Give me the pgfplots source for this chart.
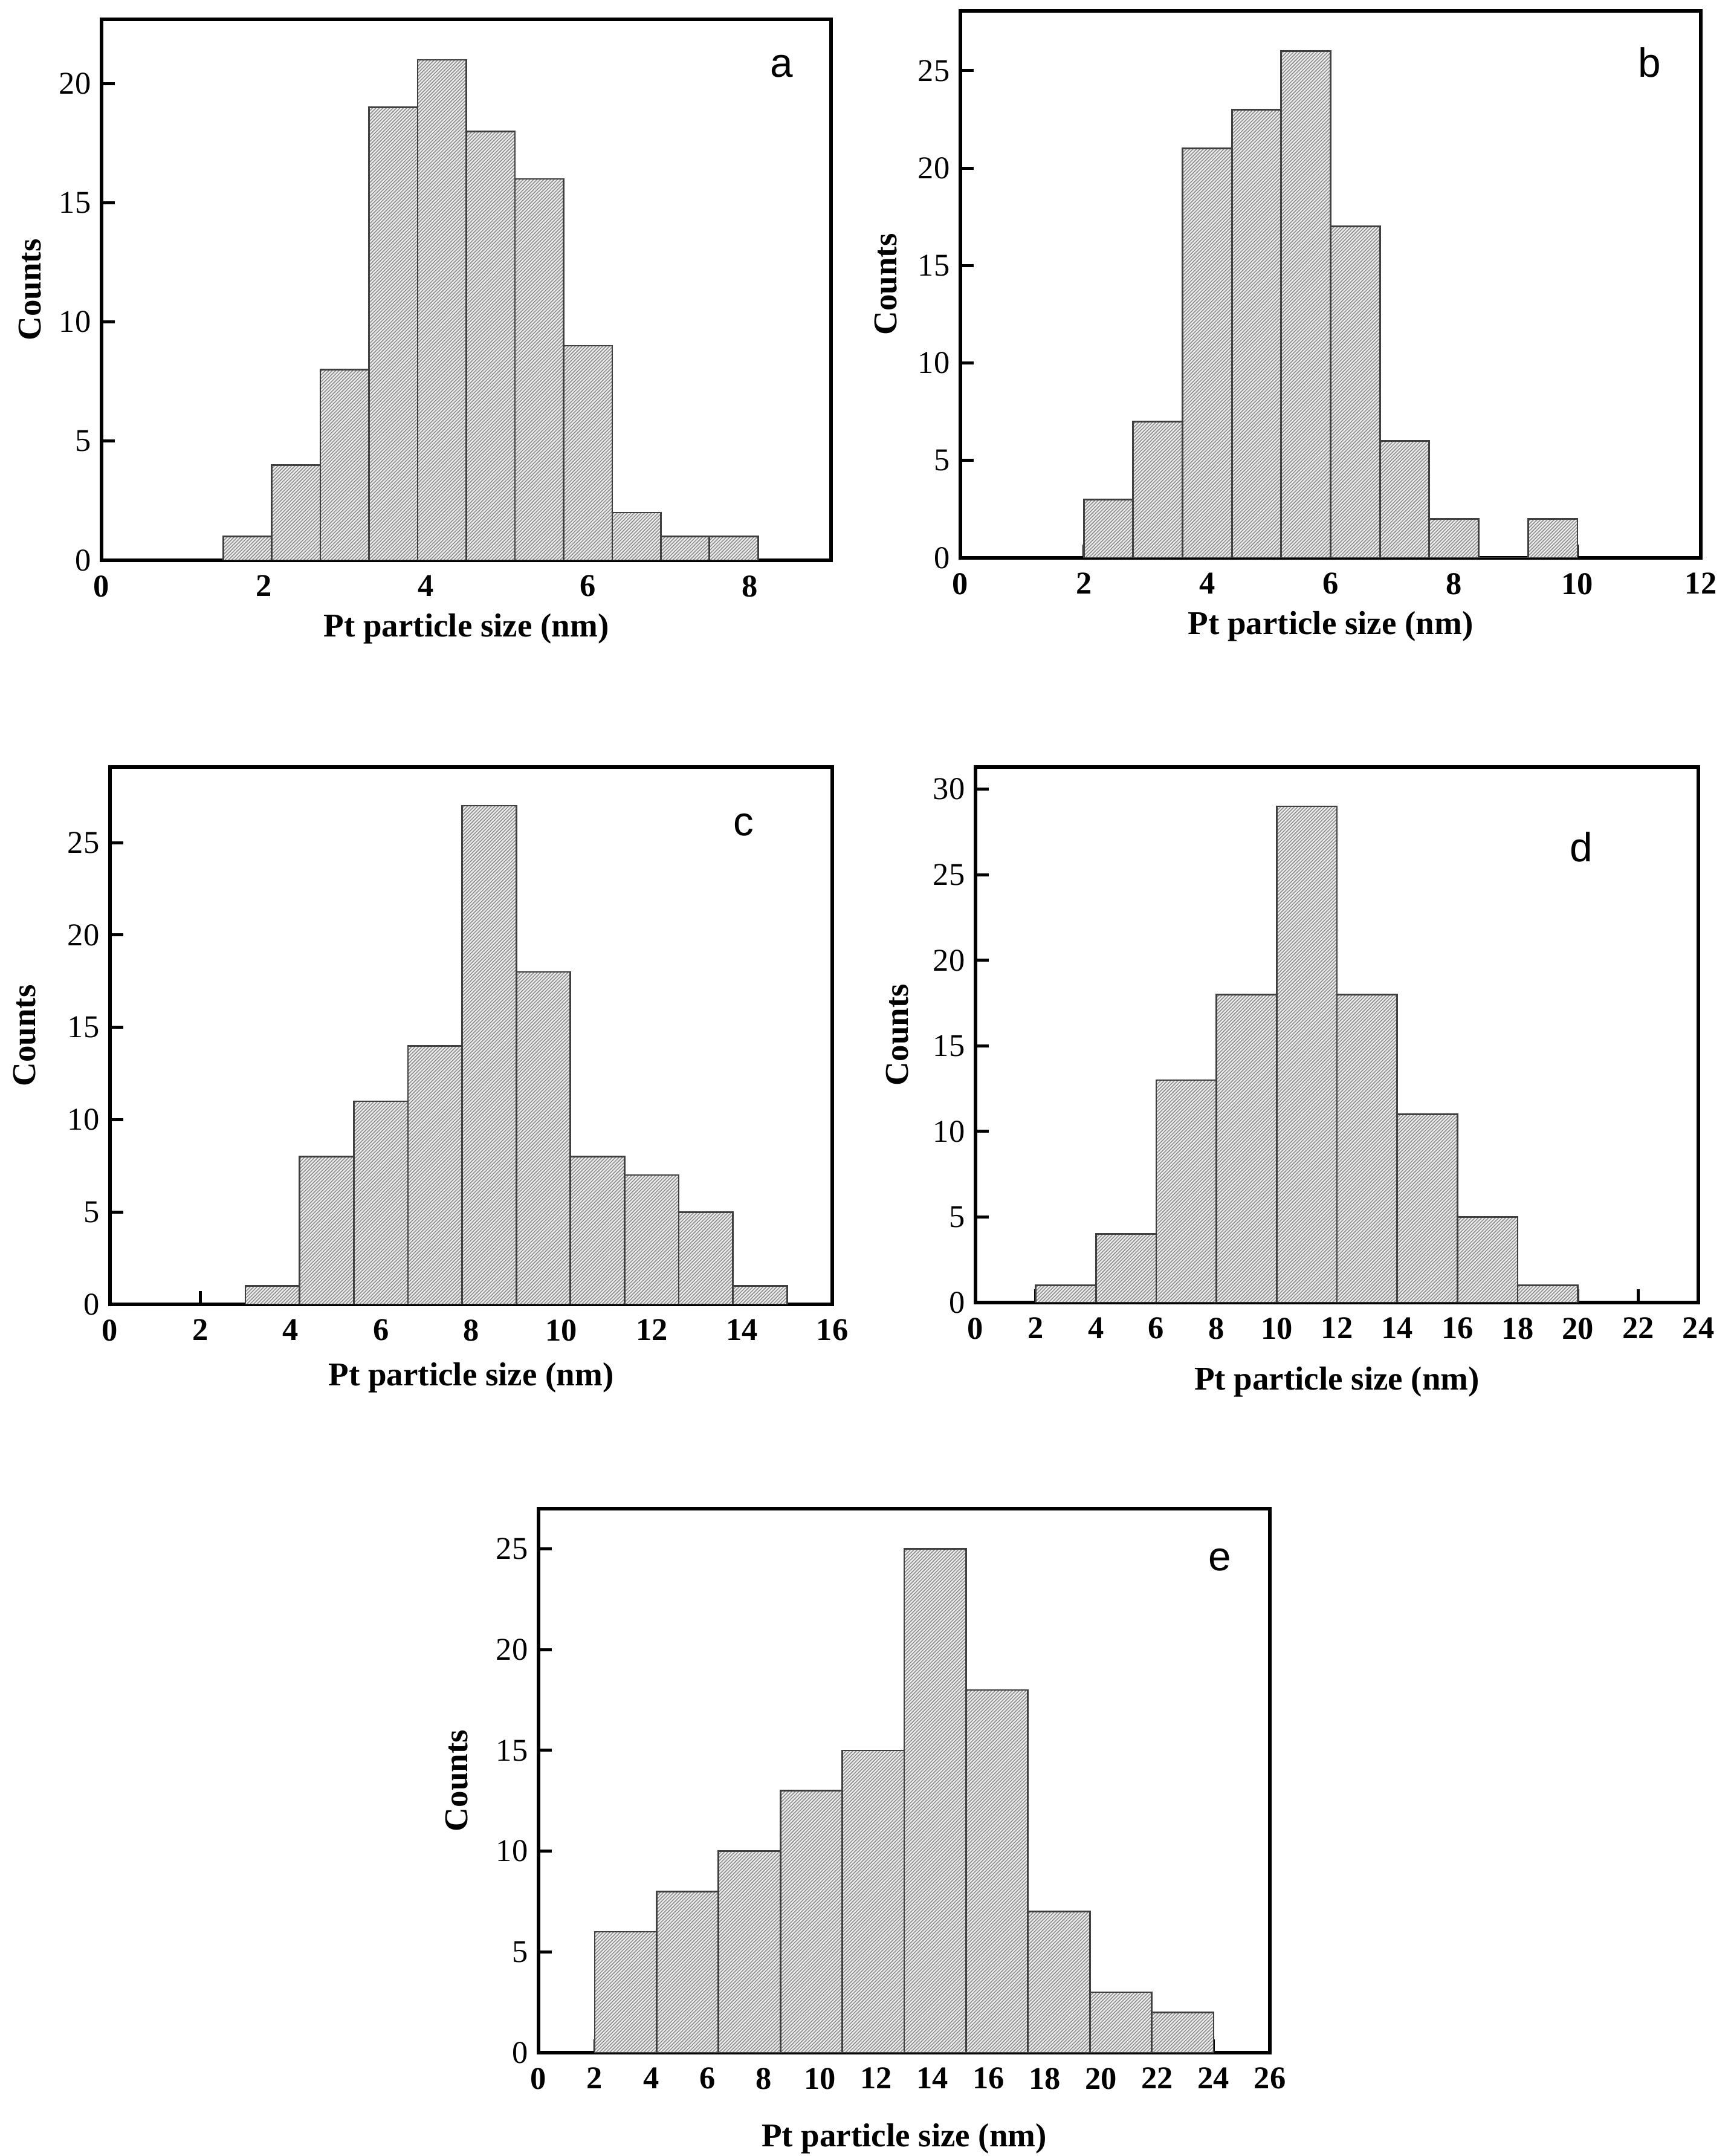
\documentclass[border=0pt]{standalone}
\usepackage{fontspec}
\setmainfont{Liberation Serif}
\newfontfamily\lettfont{Liberation Sans}
\usepackage{pgfplots}
\pgfplotsset{compat=1.18}
\usetikzlibrary{patterns.meta}

\tikzset{lett/.style={font=\lettfont\fontsize{13.5}{15}\selectfont, anchor=center}}
\newcommand\lblfont{\bfseries\fontsize{11}{13}\selectfont}
\pgfplotsset{
  histo/.style={
    scale only axis,
    xmin=0, ymin=0,
    axis line style={line width=1.3pt},
    tick align=inside, tick pos=left,
    major tick length=4.4pt,
    every tick/.style={line width=1pt, black},
    /pgf/number format/assume math mode=true,
    yticklabel style={font=\fontsize{10.5}{12}\selectfont},
    xticklabel style={font=\bfseries\fontsize{10.5}{12}\selectfont, yshift=-1.5pt},
    xlabel={Pt particle size (nm)},
    ylabel={Counts},
  },
  bars/.style={ybar interval, draw=black!75, line width=0.55pt, fill=black!7,
    postaction={pattern={Lines[angle=45,distance=0.8pt,line width=0.3pt]}, pattern color=black!45}},
}

\begin{document}
\begin{tikzpicture}
\useasboundingbox (0,0) rectangle (572.6pt,713.4pt);

% ---- a ----
\begin{axis}[histo, at={(33.6pt,528pt)}, anchor=south west,
  width=241.4pt, height=179pt, xmax=9, ymax=22.7,
  xtick={0,2,4,6,8}, ytick={0,5,10,15,20},
  every axis x label/.style={at={(axis description cs:0.5,-0.1263)}, anchor=center, font=\lblfont},
  every axis y label/.style={at={(axis description cs:-0.0978,0.5)}, rotate=90, anchor=center, font=\lblfont}]
\addplot[bars] coordinates {(1.5,1)(2.1,4)(2.7,8)(3.3,19)(3.9,21)(4.5,18)(5.1,16)(5.7,9)(6.3,2)(6.9,1)(7.5,1)(8.1,0)};
\node[lett] at (rel axis cs:0.932,0.913) {a};
\end{axis}

% ---- b ----
\begin{axis}[histo, at={(317.8pt,528.8pt)}, anchor=south west,
  width=245pt, height=181pt, xmax=12, ymax=28.07,
  xtick={0,2,...,12}, ytick={0,5,...,25},
  every axis x label/.style={at={(axis description cs:0.5,-0.1249)}, anchor=center, font=\lblfont},
  every axis y label/.style={at={(axis description cs:-0.1004,0.5)}, rotate=90, anchor=center, font=\lblfont}]
\addplot[bars] coordinates {(2,3)(2.8,7)(3.6,21)(4.4,23)(5.2,26)(6.0,17)(6.8,6)(7.6,2)(8.4,0)(9.2,2)(10,0)};
\node[lett] at (rel axis cs:0.931,0.906) {b};
\end{axis}

% ---- c ----
\begin{axis}[histo, at={(36.4pt,281.8pt)}, anchor=south west,
  width=239pt, height=177.8pt, xmax=16, ymax=29.1,
  xtick={0,2,...,16}, ytick={0,5,...,25},
  every axis x label/.style={at={(axis description cs:0.5,-0.136)}, anchor=center, font=\lblfont},
  every axis y label/.style={at={(axis description cs:-0.118,0.5)}, rotate=90, anchor=center, font=\lblfont}]
\addplot[bars] coordinates {(3,1)(4.2,8)(5.4,11)(6.6,14)(7.8,27)(9.0,18)(10.2,8)(11.4,7)(12.6,5)(13.8,1)(15,0)};
\node[lett] at (rel axis cs:0.877,0.892) {c};
\end{axis}

% ---- d ----
\begin{axis}[histo, at={(322.8pt,282.4pt)}, anchor=south west,
  width=239.2pt, height=177.2pt, xmax=24, ymax=31.3,
  xtick={0,2,...,24}, ytick={0,5,...,30},
  every axis x label/.style={at={(axis description cs:0.5,-0.148)}, anchor=center, font=\lblfont},
  every axis y label/.style={at={(axis description cs:-0.108,0.5)}, rotate=90, anchor=center, font=\lblfont}]
\addplot[bars] coordinates {(2,1)(4,4)(6,13)(8,18)(10,29)(12,18)(14,11)(16,5)(18,1)(20,0)};
\node[lett] at (rel axis cs:0.838,0.851) {d};
\end{axis}

% ---- e ----
\begin{axis}[histo, at={(178.2pt,34.2pt)}, anchor=south west,
  width=242pt, height=180pt, xmax=26, ymax=27.0,
  xtick={0,2,...,26}, ytick={0,5,...,25},
  every axis x label/.style={at={(axis description cs:0.5,-0.158)}, anchor=center, font=\lblfont},
  every axis y label/.style={at={(axis description cs:-0.1116,0.5)}, rotate=90, anchor=center, font=\lblfont}]
\addplot[bars] coordinates {(2,6)(4.2,8)(6.4,10)(8.6,13)(10.8,15)(13,25)(15.2,18)(17.4,7)(19.6,3)(21.8,2)(24,0)};
\node[lett] at (rel axis cs:0.932,0.906) {e};
\end{axis}
\end{tikzpicture}
\end{document}
